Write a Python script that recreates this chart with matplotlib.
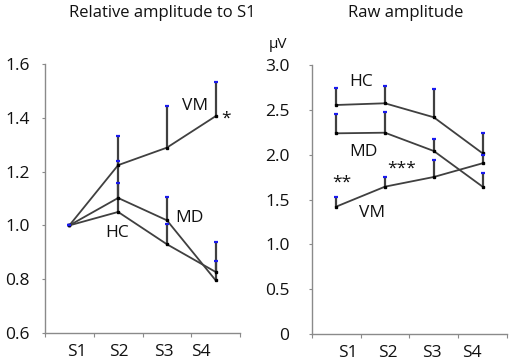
import numpy as np
import matplotlib
matplotlib.use("Agg")
import matplotlib.pyplot as plt

plt.rcParams['font.family'] = ['Open Sans', 'DejaVu Sans']

sessions = ['S1', 'S2', 'S3', 'S4']
x = np.arange(1, 5)

# relative amplitude (normalised to S1)
rel_vm = [1.0, 1.224, 1.289, 1.406]
rel_md = [1.0, 1.102, 1.019, 0.796]
rel_hc = [1.0, 1.050, 0.930, 0.827]
rel_vm_top = [1.0, 1.333, 1.444, 1.532]
rel_md_top = [1.0, 1.158, 1.104, 0.939]
rel_hc_top = [1.0, 1.239, 1.005, 0.868]

# raw amplitude (uV)
raw_hc = [2.554, 2.573, 2.417, 2.015]
raw_md = [2.238, 2.245, 2.041, 1.643]
raw_vm = [1.420, 1.643, 1.751, 1.904]
raw_hc_top = [2.747, 2.766, 2.729, 2.245]
raw_md_top = [2.450, 2.472, 2.178, 1.792]
raw_vm_top = [1.525, 1.748, 1.941, 2.000]

rel_ticks = [0.6, 0.8, 1.0, 1.2, 1.4, 1.6]
raw_ticks = [0, 0.5, 1.0, 1.5, 2.0, 2.5, 3.0]
raw_ticklabels = ['0', '0.5', '1.0', '1.5', '2.0', '2.5', '3.0']

line_c = '#404040'
axis_c = '#8a8a8a'
txt_c = '#111111'


def draw_series(ax, vals, tops):
    ax.vlines(x, vals, tops, color=line_c, lw=1.6, zorder=2)
    ax.plot(x, vals, color=line_c, lw=1.3, marker='s', ms=2.0,
            mfc='black', mec='black', zorder=3)
    ax.plot(x, tops, ls='none', marker='_', ms=3.0, mew=1.6,
            color='#1a1aee', zorder=4)


def style_axis(ax, label_pos, pad_y):
    for s in ['top', 'right']:
        ax.spines[s].set_visible(False)
    for s in ['left', 'bottom']:
        ax.spines[s].set_color(axis_c)
        ax.spines[s].set_linewidth(1.0)
    ax.set_xlim(0.5, 4.5)
    ax.set_xticks(np.arange(0.5, 5, 1))
    ax.set_xticklabels([])
    ax.set_xticks(label_pos, minor=True)
    ax.set_xticklabels(sessions, minor=True, fontsize=12.5, color=txt_c)
    ax.tick_params(axis='x', which='major', length=3, color=axis_c)
    ax.tick_params(axis='x', which='minor', length=0, pad=8)
    ax.tick_params(axis='y', length=2, color=axis_c, labelsize=12.5,
                   labelcolor=txt_c, pad=pad_y)


fig = plt.figure(figsize=(5.17, 3.63), dpi=100)

ax1 = fig.add_axes([45 / 517, 30 / 363, 195 / 517, 269 / 363])
for v, t in [(rel_vm, rel_vm_top), (rel_md, rel_md_top), (rel_hc, rel_hc_top)]:
    draw_series(ax1, v, t)
ax1.set_ylim(0.6, 1.6)
ax1.set_yticks(rel_ticks)
ax1.set_yticklabels(['%.1f' % t for t in rel_ticks])
style_axis(ax1, [1.15, 2.02, 2.93, 3.69], 9)
ann = dict(fontsize=12.5, ha='center', va='center', color=txt_c)
ax1.text(3.58, 1.444, 'VM', **ann)
ax1.text(4.21, 1.395, '*', **ann)
ax1.text(3.47, 1.026, 'MD', **ann)
ax1.text(1.97, 0.972, 'HC', **ann)

ax2 = fig.add_axes([311.7 / 517, 29 / 363, 195.3 / 517, 269 / 363])
for v, t in [(raw_hc, raw_hc_top), (raw_md, raw_md_top), (raw_vm, raw_vm_top)]:
    draw_series(ax2, v, t)
ax2.set_ylim(0, 3.0)
ax2.set_yticks(raw_ticks)
ax2.set_yticklabels(raw_ticklabels)
style_axis(ax2, [1.25, 2.07, 2.97, 3.78], 14)
ax2.text(1.52, 2.81, 'HC', **ann)
ax2.text(1.56, 2.03, 'MD', **ann)
ax2.text(1.73, 1.35, 'VM', **ann)
ax2.text(1.115, 1.69, '**', **ann)
ax2.text(2.34, 1.84, '***', **ann)

fig.text(162 / 517, 1 - 13 / 363, 'Relative amplitude to S1', fontsize=12,
         ha='center', va='center', color=txt_c)
fig.text(406 / 517, 1 - 13 / 363, 'Raw amplitude', fontsize=12,
         ha='center', va='center', color=txt_c)
fig.text(278 / 517, 1 - 45 / 363, 'μV', fontsize=11, ha='center',
         va='center', color=txt_c)

fig.savefig('out.png', dpi=100)
